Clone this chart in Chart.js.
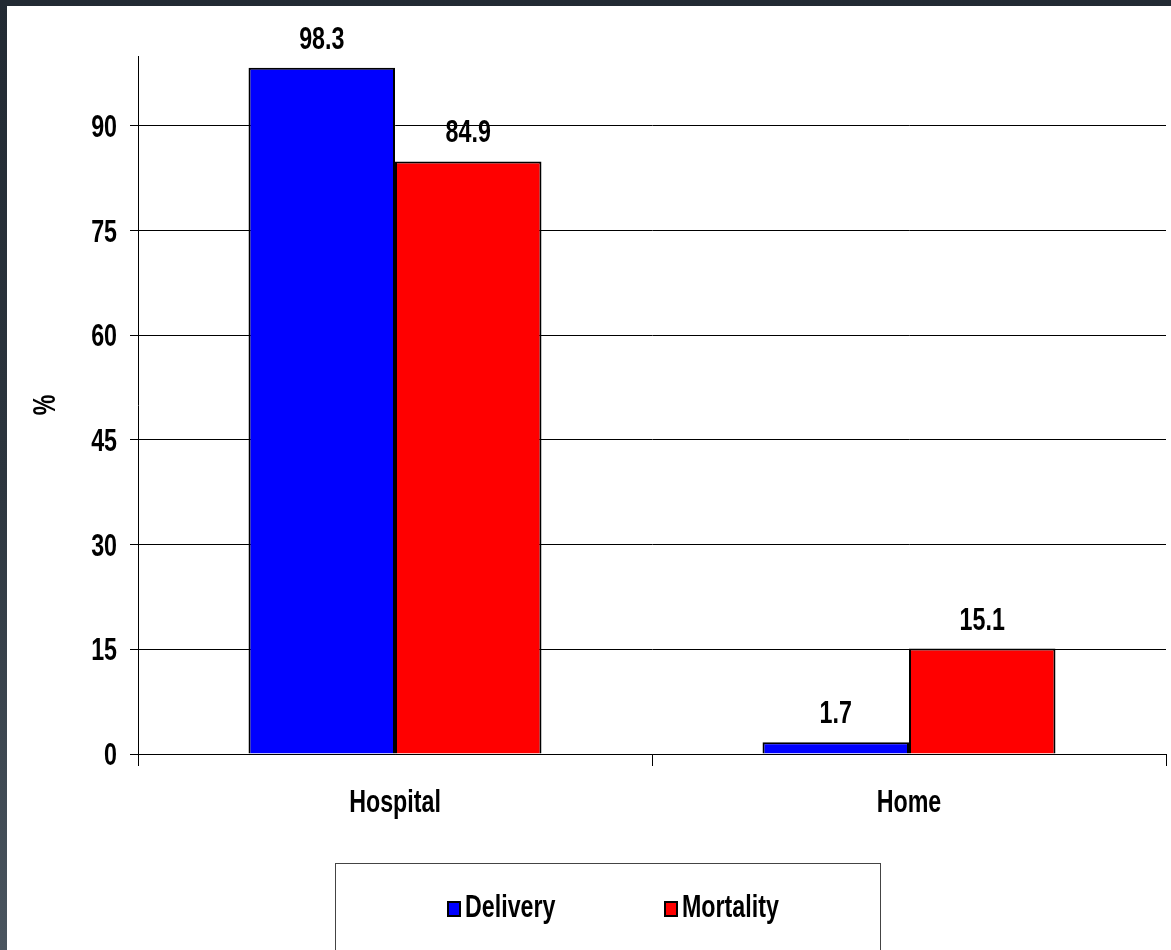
<!DOCTYPE html>
<html>
<head>
<meta charset="utf-8">
<script src="https://cdn.jsdelivr.net/npm/chart.js@4"></script>
<style>
  html, body { margin: 0; padding: 0; }
  body {
    width: 1171px; height: 950px; overflow: hidden; position: relative;
    background: linear-gradient(to bottom, #222a33 0%, #2c353e 50%, #4a555f 100%);
  }
  #wrap { position: absolute; left: 7px; top: 6px; width: 1164px; height: 944px; background: #fff; }
</style>
</head>
<body>
<div id="wrap"><canvas id="chart" width="1164" height="944"></canvas></div>
<script>
// ── DATA ────────────────────────────────────────
const categories  = ['Hospital', 'Home'];
const delivery    = [98.3, 1.7];
const mortality   = [84.9, 15.1];
const seriesNames = ['Delivery', 'Mortality'];
const yTicks      = [0, 15, 30, 45, 60, 75, 90];
const yTitle      = '%';

// narrow bold look (no Arial Narrow installed, so squeeze Liberation Sans)
const FONT = "bold 31px 'Liberation Sans', Arial, sans-serif";
const SX = 0.75;

function narrowText(ctx, text, x, y, align, rot) {
  ctx.save();
  ctx.translate(x, y);
  if (rot) ctx.rotate(rot);
  ctx.scale(SX, 1);
  ctx.font = FONT;
  ctx.fillStyle = '#000';
  ctx.textAlign = align || 'center';
  ctx.fillText(text, 0, 0);
  ctx.restore();
}

// ── AXIS TEXT ───────────────────────────────────
const axisText = {
  id: 'axisText',
  afterDraw(chart) {
    const ctx = chart.ctx;
    const xs = chart.scales.x, ys = chart.scales.y;
    ctx.save();
    ctx.textBaseline = 'alphabetic';
    ys.ticks.forEach(t => {
      narrowText(ctx, String(t.value), 110, ys.getPixelForValue(t.value) + 11, 'right');
    });
    categories.forEach((c, i) => {
      narrowText(ctx, c, xs.getPixelForValue(i), xs.top + 58, 'center');
    });
    ctx.textBaseline = 'middle';
    narrowText(ctx, yTitle, 39, (ys.top + ys.bottom) / 2, 'center', -Math.PI / 2);
    ctx.restore();
  }
};

// ── VALUE LABELS ────────────────────────────────
const valueLabels = {
  id: 'valueLabels',
  afterDatasetsDraw(chart) {
    const ctx = chart.ctx;
    ctx.save();
    ctx.textBaseline = 'alphabetic';
    chart.data.datasets.forEach((ds, i) => {
      chart.getDatasetMeta(i).data.forEach((bar, j) => {
        narrowText(ctx, String(ds.data[j]), bar.x, bar.y - 19, 'center');
      });
    });
    ctx.restore();
  }
};

// ── LEGEND BOX ──────────────────────────────────
const boxLegend = {
  id: 'boxLegend',
  afterDraw(chart) {
    const ctx = chart.ctx;
    const itemX = [441, 658];
    ctx.save();
    ctx.strokeStyle = '#444';
    ctx.lineWidth = 1;
    ctx.strokeRect(328.5, 857.5, 545, 120);
    ctx.textBaseline = 'alphabetic';
    chart.data.datasets.forEach((ds, i) => {
      const x = itemX[i];
      ctx.fillStyle = ds.backgroundColor;
      ctx.fillRect(x, 896, 12, 14);
      ctx.strokeStyle = '#000';
      ctx.lineWidth = 2;
      ctx.strokeRect(x, 896, 12, 14);
      narrowText(ctx, ds.label, x + 17, 911, 'left');
    });
    ctx.restore();
  }
};

// ── CHART ───────────────────────────────────────
new Chart(document.getElementById('chart'), {
  type: 'bar',
  data: {
    labels: categories,
    datasets: [
      { label: seriesNames[0], data: delivery,  backgroundColor: '#0000ff', borderColor: '#000', borderWidth: 2 },
      { label: seriesNames[1], data: mortality, backgroundColor: '#ff0000', borderColor: '#000', borderWidth: 2 }
    ]
  },
  options: {
    responsive: false,
    animation: false,
    categoryPercentage: 0.57,
    barPercentage: 1,
    layout: { padding: { top: 50, right: 5, left: 0, bottom: 0 } },
    plugins: { legend: { display: false }, tooltip: { enabled: false } },
    scales: {
      x: {
        afterFit: s => { s.height = 196; },
        grid: { drawOnChartArea: false, offset: true, tickLength: 12, color: '#000' },
        border: { display: true, color: '#000', width: 1 },
        ticks: { display: false }
      },
      y: {
        min: 0,
        max: 100,
        afterFit: s => { s.width = 131; },
        afterBuildTicks: s => { s.ticks = yTicks.map(v => ({ value: v })); },
        grid: { color: '#000', lineWidth: 1, tickLength: 8 },
        border: { display: true, color: '#000', width: 1 },
        ticks: { display: false }
      }
    }
  },
  plugins: [valueLabels, axisText, boxLegend]
});
</script>
</body>
</html>
